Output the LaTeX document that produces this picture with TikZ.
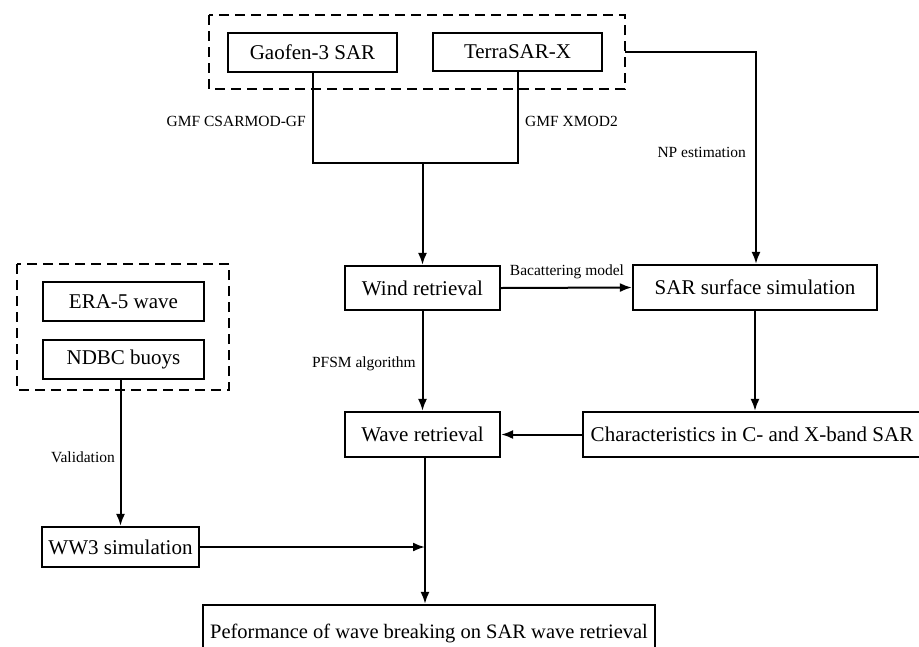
\documentclass[tikz,border=0pt]{standalone}
\usepackage{fontspec}
\setmainfont{Liberation Serif}
\usetikzlibrary{arrows.meta}
\begin{document}
\begin{tikzpicture}[x=1pt,y=-1pt,
  box/.style={draw,line width=2.2pt,inner sep=0pt,font=\fontsize{21}{24}\selectfont},
  dbox/.style={draw,line width=2pt,dash pattern=on 10pt off 6pt},
  conn/.style={line width=2pt},
  arr/.style={line width=2pt,-{Latex[length=12pt,width=9pt]}},
  lab/.style={font=\fontsize{15.5}{18}\selectfont,inner sep=0pt}]
\useasboundingbox (0,0) rectangle (919,646);
\fill[white] (0,0) rectangle (919,646);
% dashed groups
\draw[dbox] (209,15) rectangle (625,89);
\draw[dbox] (17,264) rectangle (229,390);
\coordinate (topE) at (625,52);
% nodes
\node[box,minimum width=169pt,minimum height=39pt] (gaofen) at (312.5,52.5) {Gaofen-3 SAR};
\node[box,minimum width=169pt,minimum height=38pt] (terra) at (517.5,52) {TerraSAR-X};
\node[box,minimum width=155pt,minimum height=44pt] (wind) at (422.5,288) {Wind retrieval};
\node[box,minimum width=244pt,minimum height=45pt] (sarsim) at (755,287.5) {SAR surface simulation};
\node[box,minimum width=346pt,minimum height=45pt] (charac) at (756,434.5) {\hspace{-8pt}Characteristics in C- and X-band SAR};
\node[box,minimum width=155pt,minimum height=45pt] (wave) at (422.5,434.5) {Wave retrieval};
\node[box,minimum width=161pt,minimum height=39pt] (era) at (123.5,301.5) {ERA-5 wave};
\node[box,minimum width=161pt,minimum height=39pt] (ndbc) at (123.5,359.5) {NDBC buoys};
\node[box,minimum width=157pt,minimum height=40pt] (ww3) at (120.5,547) {WW3 simulation};
\node[box,minimum width=452pt,minimum height=50pt,text depth=0pt,font=\fontsize{20.5}{24}\selectfont] (perf) at (429,630) {\raisebox{-2pt}{Peformance of wave breaking on SAR wave retrieval}};
% connectors
\coordinate (join) at (422.5,163);
\draw[conn] (gaofen.south) -- (gaofen.south |- join) -- (terra.south |- join) -- (terra.south);
\draw[arr] (join) -- (wind.north);
\coordinate (npc) at (756,52);
\draw[arr] (topE) -- (npc) -- (npc |- sarsim.north);
\draw[arr] (wind.east) -- (sarsim.west);
\draw[arr] (wind.south) -- (wave.north);
\draw[arr] (sarsim.south) -- (sarsim.south |- charac.north);
\draw[arr] (charac.west) -- (wave.east);
\draw[arr] (ndbc.south -| ww3.north) -- (ww3.north);
\coordinate (mid) at (425,547);
\draw[arr] (ww3.east) -- (mid);
\draw[arr] (wave.south -| mid) -- (mid |- perf.north);
% labels
\node[lab,anchor=east] (l1) at (306,121) {GMF CSARMOD-GF};
\node[lab,anchor=west] (l2) at (525,121) {GMF XMOD2};
\node[lab,anchor=east] (l3) at (746,152) {NP estimation};
\node[lab] (l4) at (567,272) {Bacattering model};
\node[lab,anchor=east] (l5) at (416,364) {PFSM algorithm};
\node[lab,anchor=east] (l6) at (115,457) {Validation};
\end{tikzpicture}
\end{document}
